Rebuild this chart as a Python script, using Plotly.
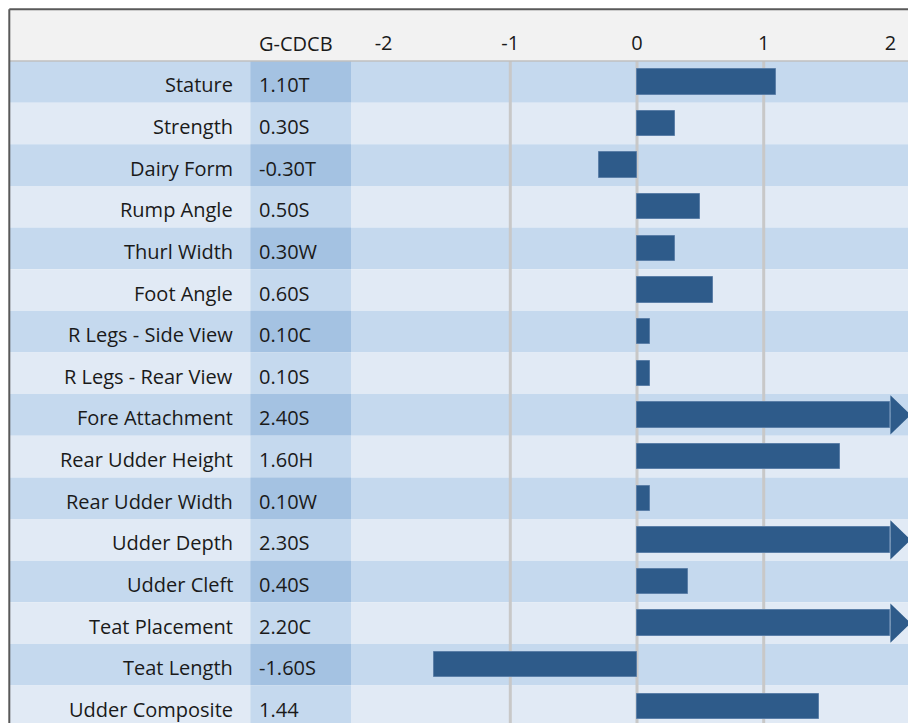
import plotly.graph_objects as go

# ---- data ----
traits = ["Stature", "Strength", "Dairy Form", "Rump Angle", "Thurl Width",
          "Foot Angle", "R Legs - Side View", "R Legs - Rear View",
          "Fore Attachment", "Rear Udder Height", "Rear Udder Width",
          "Udder Depth", "Udder Cleft", "Teat Placement", "Teat Length",
          "Udder Composite"]
values = [1.10, 0.30, -0.30, 0.50, 0.30, 0.60, 0.10, 0.10,
          2.40, 1.60, 0.10, 2.30, 0.40, 2.20, -1.60, 1.44]
codes = ["T", "S", "T", "S", "W", "S", "C", "S",
         "S", "H", "W", "S", "S", "C", "S", ""]
tick_vals = [-2, -1, 0, 1, 2]
grid_vals = [-1, 0, 1]
header_label = "G-CDCB"
CAP = 2.0  # values beyond this are drawn as arrows

# ---- styling ----
W, H = 916, 723
TOP = 53            # top of the rows (px, figure coords)
FONT = "Open Sans"
FS = 20
TXT = "#1a1a1a"
BAR = "#2e5b8a"
ROW_A = "#c5d9ee"
ROW_B = "#e1eaf5"
COL_A = "#a4c2e2"
COL_B = "#c5d9ee"
GRID = "#c8c8c8"

n = len(traits)
idx = list(range(n))
plot_h = H - TOP
row_px = 41.64
x_px_per_unit = 126.7
x_zero_px = 629.0
x_range = [-x_zero_px / x_px_per_unit, (W - x_zero_px) / x_px_per_unit]
y_bottom = -0.5 + plot_h / row_px
y_range = [y_bottom, -0.5]
text_dy = 3.0 / row_px   # text sits slightly below row centre

def px_x(p):
    return p / W

def px_y(p):
    return 1 - (p - TOP) / plot_h

shapes = []
# header background
shapes.append(dict(type="rect", xref="paper", yref="paper",
                   x0=px_x(2), x1=1, y0=1, y1=px_y(2),
                   fillcolor="#f2f2f2", line_width=0, layer="below"))
# row backgrounds
for i in idx:
    shapes.append(dict(type="rect", xref="paper", yref="y",
                       x0=px_x(2), x1=1, y0=i - 0.5, y1=i + 0.5,
                       fillcolor=ROW_A if i % 2 == 0 else ROW_B,
                       line_width=0, layer="below"))
    shapes.append(dict(type="rect", xref="paper", yref="y",
                       x0=px_x(242.5), x1=px_x(343), y0=i - 0.5, y1=i + 0.5,
                       fillcolor=COL_A if i % 2 == 0 else COL_B,
                       line_width=0, layer="below"))
# gridlines
for g in grid_vals:
    shapes.append(dict(type="line", xref="x", yref="paper",
                       x0=g, x1=g, y0=0, y1=1,
                       line=dict(color=GRID, width=3), layer="below"))
# header bottom rule
shapes.append(dict(type="line", xref="paper", yref="paper",
                   x0=px_x(2), x1=1, y0=1, y1=1,
                   line=dict(color="#bfbfbf", width=1.5), layer="above"))
# frame lines
shapes.append(dict(type="line", xref="paper", yref="paper",
                   x0=px_x(1.3), x1=1, y0=px_y(1.3), y1=px_y(1.3),
                   line=dict(color="#595959", width=2), layer="above"))
shapes.append(dict(type="line", xref="paper", yref="paper",
                   x0=px_x(1.3), x1=px_x(1.3), y0=px_y(1.3), y1=0,
                   line=dict(color="#595959", width=2), layer="above"))

fig = go.Figure()

bar_x = [min(v, CAP) for v in values]
fig.add_trace(go.Bar(
    x=bar_x, y=idx, orientation="h", width=0.61,
    marker=dict(color=BAR, line=dict(color="#5b7fa8", width=1)),
    hoverinfo="skip", showlegend=False))

# arrow heads for clipped values
for i, v in enumerate(values):
    if v > CAP:
        fig.add_trace(go.Scatter(
            x=[CAP, CAP + 0.16, CAP, CAP],
            y=[i - 0.47, i, i + 0.47, i - 0.47],
            mode="lines", fill="toself", fillcolor=BAR,
            line=dict(color=BAR, width=0),
            hoverinfo="skip", showlegend=False))

annotations = []
for i, (t, v, c) in enumerate(zip(traits, values, codes)):
    annotations.append(dict(text=t, xref="paper", yref="y",
                            x=px_x(227), y=i + text_dy, xanchor="right",
                            yanchor="middle", showarrow=False,
                            font=dict(family=FONT, size=FS, color=TXT)))
    annotations.append(dict(text=f"{v:.2f}{c}", xref="paper", yref="y",
                            x=px_x(249), y=i + text_dy, xanchor="left",
                            yanchor="middle", showarrow=False,
                            font=dict(family=FONT, size=FS, color=TXT)))
annotations.append(dict(text=header_label, xref="paper", yref="paper",
                        x=px_x(249), y=px_y(36), xanchor="left", yanchor="middle",
                        showarrow=False,
                        font=dict(family=FONT, size=FS, color=TXT)))

fig.update_layout(
    width=W, height=H,
    margin=dict(l=0, r=0, t=TOP, b=0, pad=0),
    paper_bgcolor="white", plot_bgcolor="rgba(0,0,0,0)",
    shapes=shapes, annotations=annotations,
    bargap=0, showlegend=False,
    xaxis=dict(range=x_range, side="top", tickvals=tick_vals,
               ticktext=[str(t) for t in tick_vals],
               ticks="", showgrid=False, zeroline=False, showline=False,
               ticklabelstandoff=6,
               tickfont=dict(family=FONT, size=FS, color=TXT),
               fixedrange=True),
    yaxis=dict(range=y_range, showticklabels=False, showgrid=False,
               zeroline=False, showline=False, fixedrange=True),
)

fig.write_html("out.html")
